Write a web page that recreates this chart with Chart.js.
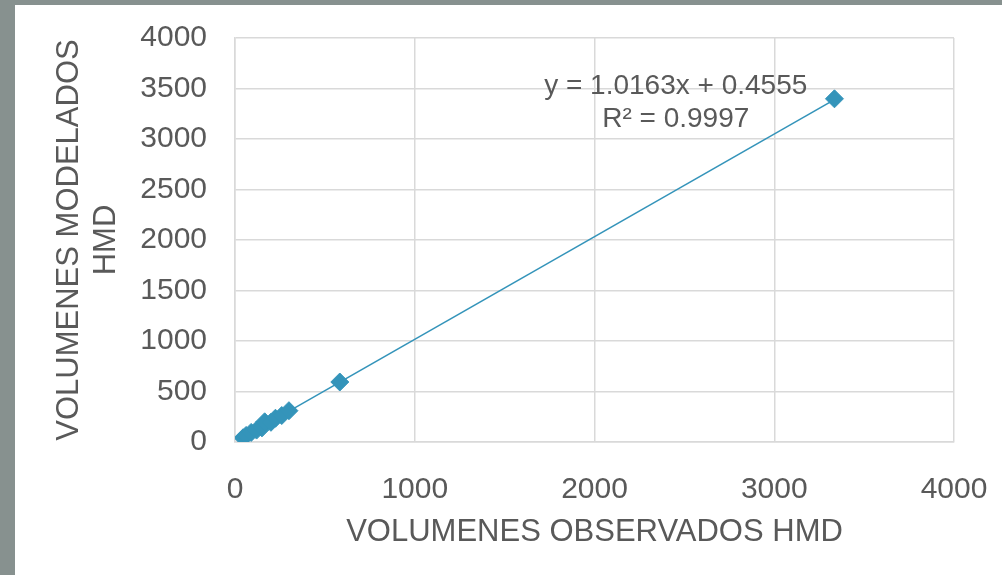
<!DOCTYPE html>
<html>
<head>
<meta charset="utf-8">
<script src="https://cdn.jsdelivr.net/npm/chart.js@4.4.0/dist/chart.umd.min.js"></script>
<style>
  html, body { margin: 0; padding: 0; background: #87918f; }
  #wrap { position: absolute; left: 15px; top: 5px; width: 987px; height: 570px; background: #ffffff; }
</style>
</head>
<body>
<div id="wrap"><canvas id="c" width="987" height="570"></canvas></div>
<script>
// observados vs modelados (HMD)
const observados = [45, 62, 90, 120, 150, 165, 200, 225, 260, 300, 583, 3335];
const modelados  = [42, 65, 95, 118, 140, 200, 195, 235, 262, 310, 594, 3398];

// linea de tendencia (extremos)
const trendX = [45, 3335];
const trendY = [46, 3390];

const eqLines = ['y = 1.0163x + 0.4555', 'R² = 0.9997'];
const eqAnchorX = 2452;
const eqAnchorY = [3525, 3200];

const xTitle = 'VOLUMENES OBSERVADOS HMD';
const yTitle = ['VOLUMENES MODELADOS', 'HMD'];

const blue = '#3494ba';
const grey = '#595959';
const gridCol = '#d9d9d9';
const fontFam = "'Liberation Sans', Arial, sans-serif";

const eqPlugin = {
  id: 'eq',
  afterDatasetsDraw(chart) {
    const { ctx, scales } = chart;
    ctx.save();
    ctx.fillStyle = grey;
    ctx.font = '28px ' + fontFam;
    ctx.textAlign = 'center';
    ctx.textBaseline = 'middle';
    eqLines.forEach((t, i) => {
      ctx.fillText(t, scales.x.getPixelForValue(eqAnchorX), scales.y.getPixelForValue(eqAnchorY[i]));
    });
    ctx.restore();
  }
};

const plain = v => String(v);

new Chart(document.getElementById('c'), {
  type: 'scatter',
  data: {
    datasets: [
      {
        label: 'datos',
        data: observados.map((x, i) => ({ x, y: modelados[i] })),
        pointStyle: 'rectRot',
        pointRadius: 9,
        backgroundColor: blue,
        borderColor: blue,
        borderWidth: 1,
        order: 1
      },
      {
        label: 'tendencia',
        type: 'line',
        data: trendX.map((x, i) => ({ x, y: trendY[i] })),
        borderColor: blue,
        borderWidth: 1.6,
        pointRadius: 0,
        fill: false,
        order: 2
      }
    ]
  },
  options: {
    responsive: false,
    animation: false,
    layout: { padding: { left: 0, top: 33, right: 48, bottom: 0 } },
    plugins: {
      legend: { display: false },
      tooltip: { enabled: false }
    },
    scales: {
      x: {
        type: 'linear',
        min: 0,
        max: 4000,
        // tick marks hidden, tickLength used as label gap
        ticks: { stepSize: 1000, color: grey, padding: 2, callback: plain, font: { family: fontFam, size: 30 } },
        grid: { color: gridCol, lineWidth: 1.5, drawTicks: true, tickLength: 28, tickColor: 'rgba(0,0,0,0)' },
        border: { color: gridCol, width: 1.5 },
        title: { display: true, text: xTitle, color: grey, font: { family: fontFam, size: 31 }, padding: { bottom: 24, top: 0 } },
        afterFit(s) { s.height = 133; }
      },
      y: {
        min: 0,
        max: 4000,
        ticks: { stepSize: 500, color: grey, padding: 2, callback: plain, font: { family: fontFam, size: 30 } },
        grid: { color: gridCol, lineWidth: 1.5, drawTicks: true, tickLength: 26, tickColor: 'rgba(0,0,0,0)' },
        border: { color: gridCol, width: 1.5 },
        title: { display: true, text: yTitle, color: grey, font: { family: fontFam, size: 31, lineHeight: 1.2 }, padding: { top: 36, bottom: 0 } },
        afterFit(s) { s.width = 220; }
      }
    }
  },
  plugins: [eqPlugin]
});
</script>
</body>
</html>
